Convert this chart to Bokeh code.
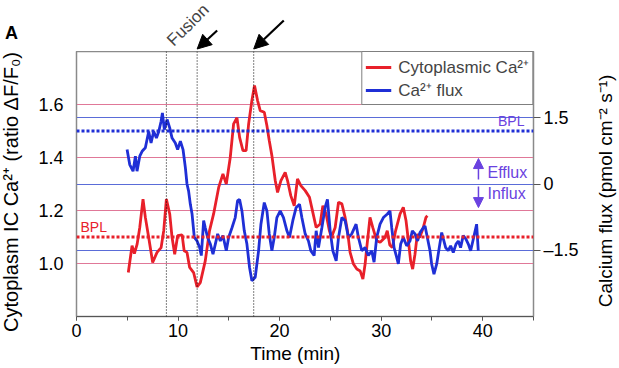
from bokeh.plotting import figure
from bokeh.layouts import column, row
from bokeh.models import (Range1d, LinearAxis, FixedTicker, SingleIntervalTicker,
                          PrintfTickFormatter, Span, Label, Arrow, NormalHead, Grid, Div)
from bokeh.embed import file_html
from bokeh.resources import INLINE
import math

# ---------------- data ----------------
time_ca = [5.1, 5.47, 5.7, 5.97, 6.23, 6.55, 6.78, 7.11, 7.5, 7.93,
           8.33, 8.59, 8.85, 9.18, 9.41, 9.67, 9.96, 10.4, 10.6, 10.88,
           11.14, 11.53, 11.87, 12.19, 12.68, 13.1, 13.5, 14.0, 14.42, 14.75,
           15.14, 15.47, 15.8, 16.06, 16.39, 16.7, 16.95, 17.27, 17.53, 17.83,
           18.09, 18.49, 18.75, 18.98, 19.24, 19.57, 19.8, 20.13, 20.55, 20.78,
           21.1, 21.44, 21.76, 22.09, 22.52, 22.94, 23.27, 23.6, 23.99, 24.26,
           24.58, 24.9, 25.1, 25.47, 25.8, 26.13, 26.45, 26.68, 26.94, 27.27,
           27.6, 27.93, 28.2, 28.42, 28.58, 28.9, 29.17, 29.56, 29.9, 30.38,
           30.6, 30.85, 31.1, 31.4, 31.86, 32.18, 32.45, 32.68, 32.9, 33.1,
           33.33, 33.56, 33.8, 34.15, 34.41, 34.55]
ca_ratio = [0.966, 1.067, 1.037, 1.073, 1.136, 1.243, 1.174, 1.098, 1.004, 1.042,
            1.06, 1.124, 1.243, 1.187, 1.098, 1.035, 1.105, 1.108, 1.048, 1.042,
            0.985, 0.966, 0.912, 0.928, 1.01, 1.124, 1.187, 1.287, 1.338, 1.3,
            1.4, 1.527, 1.55, 1.476, 1.426, 1.426, 1.527, 1.615, 1.672, 1.615,
            1.577, 1.571, 1.52, 1.464, 1.407, 1.313, 1.268, 1.313, 1.344, 1.313,
            1.256, 1.218, 1.319, 1.294, 1.275, 1.25, 1.193, 1.136, 1.149, 1.218,
            1.187, 1.124, 1.098, 1.136, 1.231, 1.225, 1.174, 1.124, 1.042, 0.998,
            0.979, 0.972, 0.941, 0.998, 1.06, 1.174, 1.136, 1.086, 1.08, 1.098,
            1.124, 1.07, 1.06, 1.12, 1.187, 1.212, 1.161, 1.086, 1.01, 0.979,
            1.035, 1.111, 1.098, 1.136, 1.174, 1.18]

time_flux = [4.98, 5.24, 5.57, 5.8, 5.96, 6.23, 6.46, 6.78, 7.11, 7.34,
             7.6, 7.87, 8.1, 8.33, 8.46, 8.65, 8.92, 9.18, 9.41, 9.73,
             9.96, 10.23, 10.49, 10.72, 10.88, 11.04, 11.21, 11.38, 11.6, 11.87,
             12.13, 12.29, 12.52, 12.68, 12.91, 13.18, 13.44, 13.67, 13.9, 14.16,
             14.42, 14.75, 14.98, 15.31, 15.63, 15.86, 16.06, 16.29, 16.52, 16.78,
             17.04, 17.27, 17.6, 17.93, 18.16, 18.49, 18.75, 18.98, 19.24, 19.47,
             19.73, 20.06, 20.38, 20.72, 20.97, 21.3, 21.63, 21.96, 22.19, 22.52,
             22.84, 23.07, 23.4, 23.6, 23.83, 24.16, 24.48, 24.71, 24.98, 25.24,
             25.57, 25.8, 26.13, 26.45, 26.78, 27.1, 27.53, 27.76, 28.09, 28.42,
             28.74, 29.07, 29.3, 29.56, 29.89, 30.22, 30.61, 30.87, 31.04, 31.27,
             31.53, 31.69, 31.92, 32.18, 32.51, 32.84, 33.07, 33.33, 33.59, 33.82,
             34.15, 34.32, 34.58, 34.81, 34.97, 35.2, 35.47, 35.72, 35.96, 36.13,
             36.35, 36.6, 36.84, 37.1, 37.37, 37.6, 37.82, 38.08, 38.35, 38.58,
             38.81, 39.07, 39.4, 39.56]
flux = [0.78, 0.44, 0.29, 0.63, 0.29, 0.63, 0.74, 0.82, 1.19, 0.93,
        1.19, 1.04, 1.19, 1.42, 1.61, 1.23, 1.46, 1.27, 1.04, 0.93,
        0.78, 0.97, 0.78, 0.37, 0.0, -0.16, -0.46, -0.68, -1.21, -1.29,
        -1.44, -1.62, -0.83, -0.99, -1.21, -1.36, -1.59, -1.36, -1.13, -1.29,
        -1.17, -1.51, -1.21, -0.99, -0.76, -0.38, -0.35, -0.61, -1.06, -1.36,
        -1.89, -2.19, -2.11, -1.51, -0.91, -0.42, -0.61, -1.13, -1.51, -1.21,
        -0.76, -0.61, -0.76, -1.06, -1.21, -0.83, -0.53, -0.46, -0.76, -1.13,
        -1.29, -1.51, -1.62, -1.06, -1.44, -0.99, -0.53, -0.35, -1.06, -1.51,
        -1.74, -1.21, -0.76, -0.83, -1.21, -1.13, -0.91, -1.21, -1.51, -1.44,
        -1.62, -1.51, -1.77, -1.21, -0.91, -0.76, -0.68, -0.61, -0.99, -1.44,
        -1.66, -1.81, -1.36, -1.21, -1.4, -1.29, -1.06, -1.13, -1.29, -1.1,
        -0.99, -0.95, -1.25, -1.51, -1.81, -2.04, -1.81, -1.44, -1.1, -1.25,
        -1.44, -1.51, -1.4, -1.55, -1.36, -1.29, -1.44, -1.17, -1.25, -1.36,
        -1.51, -1.25, -0.91, -1.51]

ca_ticks = [1.0, 1.2, 1.4, 1.6]
flux_ticks = [-1.5, 0, 1.5]
flux_tick_labels = {-1.5: "\u20131.5", 0: "0", 1.5: "1.5"}
bpl_ca = 1.1
bpl_flux = 1.2
event_times = [8.85, 11.88, 17.45]
arrow_times = [11.88, 17.45]

TITLE_X = "Time (min)"
TITLE_YL = "Cytoplasm IC Ca\u00b2\u207a (ratio \u0394F/F\u2080)"
TITLE_YR = "Calcium flux (pmol cm\u207b\u00b2 s\u207b\u00b9)"

RED = "#e8202a"
BLUE = "#1f2fd6"
PURPLE = "#6a42e0"
PINK_GRID = "#e07898"
BLUE_GRID = "#5a6cd8"
FONT = "Liberation Sans"

W, H = 619, 368
TOP = 51
LDIV, RDIV = 22, 24                 # side strips holding the rotated axis titles
LEFT, RIGHT = 76 - LDIV, 86 - RDIV  # plot borders so that the frame spans x = 76..533
PW = W - LDIV - RDIV

xr = Range1d(0, 45)

# ---------------- side strips: panel letter and rotated axis titles ----------------
def vtext(cx, cy, text, size):
    return ('<span style="position:absolute;left:%dpx;top:%dpx;'
            'transform:translate(-50%%,-50%%) rotate(-90deg);white-space:nowrap;'
            "font-family:'Liberation Sans';font-size:%dpx;line-height:1;color:black;\">%s</span>"
            % (cx, cy, size, text))

left_html = ('<div style="position:relative;width:%dpx;height:%dpx;overflow:visible;">' % (LDIV, H)
             + "<span style=\"position:absolute;left:5px;top:24px;font-family:'Liberation Sans';"
               "font-size:18px;font-weight:bold;line-height:1;color:black;\">A</span>"
             + vtext(11, 192, TITLE_YL, 20) + '</div>')
right_html = ('<div style="position:relative;width:%dpx;height:%dpx;overflow:visible;">' % (RDIV, H)
              + vtext(10, 191, TITLE_YR, 19) + '</div>')
left_div = Div(text=left_html, width=LDIV, height=H, margin=0)
right_div = Div(text=right_html, width=RDIV, height=H, margin=0)

# ---------------- top strip (annotations above the plot frame) ----------------
top = figure(width=PW, height=TOP, x_range=xr, y_range=Range1d(0, TOP),
             output_backend="svg", toolbar_location=None,
             x_axis_location=None, y_axis_location=None,
             min_border_left=LEFT, min_border_right=RIGHT, min_border_top=0, min_border_bottom=0)
top.outline_line_color = None
top.xgrid.visible = False
top.ygrid.visible = False
top.background_fill_color = "white"
top.border_fill_color = "white"

top.add_layout(Label(x=10.98, y=26.5, text="Fusion", text_font=FONT, text_font_size="17px",
                     text_align="center", text_baseline="middle", angle=math.pi / 4))
tails = [(13.85, 21), (20.41, 31)]
for t, (xs, ys) in zip(arrow_times, tails):
    top.add_layout(Arrow(end=NormalHead(size=14, fill_color="black", line_color="black"),
                         x_start=xs, y_start=ys, x_end=t, y_end=2.5,
                         line_color="black", line_width=2.2))

# ---------------- main plot ----------------
p = figure(width=PW, height=H - TOP, x_range=xr, y_range=Range1d(0.8, 1.8),
           output_backend="svg", toolbar_location=None,
           min_border_left=LEFT, min_border_right=RIGHT, min_border_top=0, min_border_bottom=52)
p.extra_y_ranges = {"flux": Range1d(-3, 3)}
p.background_fill_color = "white"
p.border_fill_color = "white"
p.outline_line_color = "#8a8a8a"
p.outline_line_width = 1.5

p.xgrid.visible = False
p.ygrid.ticker = FixedTicker(ticks=ca_ticks)
p.ygrid.grid_line_color = PINK_GRID
p.ygrid.grid_line_width = 1
p.add_layout(Grid(dimension=1, ticker=FixedTicker(ticks=flux_ticks), y_range_name="flux",
                  grid_line_color=BLUE_GRID, grid_line_width=1))

xa = p.xaxis[0]
xa.ticker = SingleIntervalTicker(interval=10, num_minor_ticks=2)
xa.major_tick_out = 4
xa.major_tick_in = 0
xa.minor_tick_out = 4
xa.minor_tick_in = 0
xa.axis_line_color = "#555555"
xa.major_tick_line_color = "#555555"
xa.minor_tick_line_color = "#555555"
xa.major_label_text_font = FONT
xa.major_label_text_font_size = "18px"
xa.major_label_text_color = "black"
xa.major_label_standoff = 3

ya = p.yaxis[0]
ya.ticker = FixedTicker(ticks=ca_ticks)
ya.formatter = PrintfTickFormatter(format="%.1f")
ya.major_tick_out = 0
ya.major_tick_in = 0
ya.minor_tick_out = 0
ya.minor_tick_in = 0
ya.axis_line_color = "#8a8a8a"
ya.major_label_text_font = FONT
ya.major_label_text_font_size = "18px"
ya.major_label_text_color = "black"
ya.major_label_standoff = 13

ra = LinearAxis(y_range_name="flux", ticker=FixedTicker(ticks=flux_ticks),
                major_label_overrides=flux_tick_labels)
ra.major_tick_out = 7
ra.major_tick_in = 0
ra.minor_tick_out = 0
ra.minor_tick_in = 0
ra.axis_line_color = "#8a8a8a"
ra.major_tick_line_color = "#555555"
ra.major_label_text_font = FONT
ra.major_label_text_font_size = "18px"
ra.major_label_text_color = "black"
ra.major_label_standoff = 3
p.add_layout(ra, "right")

# x-axis title as the single tick label of an outer axis, placed as in the reference
TX = 21.55
xt = LinearAxis(ticker=FixedTicker(ticks=[TX]), major_label_overrides={TX: TITLE_X})
xt.axis_line_color = None
xt.major_tick_out = 0
xt.major_tick_in = 0
xt.minor_tick_out = 0
xt.minor_tick_in = 0
xt.major_label_text_font = FONT
xt.major_label_text_color = "black"
xt.major_label_text_font_size = "19px"
xt.major_label_standoff = 3
p.add_layout(xt, "below")

p.add_layout(Span(location=bpl_ca, dimension="width", line_color=RED,
                  line_dash="3 2", line_width=3))
p.add_layout(Span(location=bpl_flux, dimension="width", line_color=BLUE, y_range_name="flux",
                  line_dash="3 2", line_width=3))
for t in event_times:
    p.add_layout(Span(location=t, dimension="height", line_color="black",
                      line_dash="1 2", line_width=1))

p.line(time_ca, ca_ratio, line_color=RED, line_width=2.8, legend_label="Cytoplasmic Ca\u00b2\u207a")
p.line(time_flux, flux, line_color=BLUE, line_width=2.8, y_range_name="flux",
       legend_label="Ca\u00b2\u207a flux")

lg = p.legend[0]
lg.location = "top_right"
lg.margin = 0
lg.padding = 3
lg.spacing = 0
lg.border_line_color = "black"
lg.border_line_width = 1
lg.background_fill_color = "white"
lg.background_fill_alpha = 1
lg.label_text_font = FONT
lg.label_text_font_size = "17px"
lg.glyph_width = 26
lg.glyph_height = 18
lg.label_height = 18
lg.label_standoff = 7

def lab(x, y, text, size, color="black", align="left", baseline="alphabetic"):
    p.add_layout(Label(x=x, y=y, text=text, text_font=FONT, text_font_size=size,
                       text_color=color, text_align=align, text_baseline=baseline))

lab(0.39, 1.136, "BPL", "14px", color=RED)
lab(44.11, 1.538, "BPL", "14px", color=PURPLE, align="right")
lab(40.47, 1.343, "Efflux", "16px", color=PURPLE)
lab(40.47, 1.264, "Influx", "16px", color=PURPLE)

p.add_layout(Arrow(end=NormalHead(size=10, fill_color=PURPLE, line_color=PURPLE),
                   x_start=39.58, y_start=1.317, x_end=39.58, y_end=1.396,
                   line_color=PURPLE, line_width=1.5))
p.add_layout(Arrow(end=NormalHead(size=10, fill_color=PURPLE, line_color=PURPLE),
                   x_start=39.58, y_start=1.291, x_end=39.58, y_end=1.211,
                   line_color=PURPLE, line_width=1.5))

layout = row(left_div, column(top, p, spacing=0), right_div, spacing=0)
open("out.html", "w").write(file_html(layout, INLINE))
